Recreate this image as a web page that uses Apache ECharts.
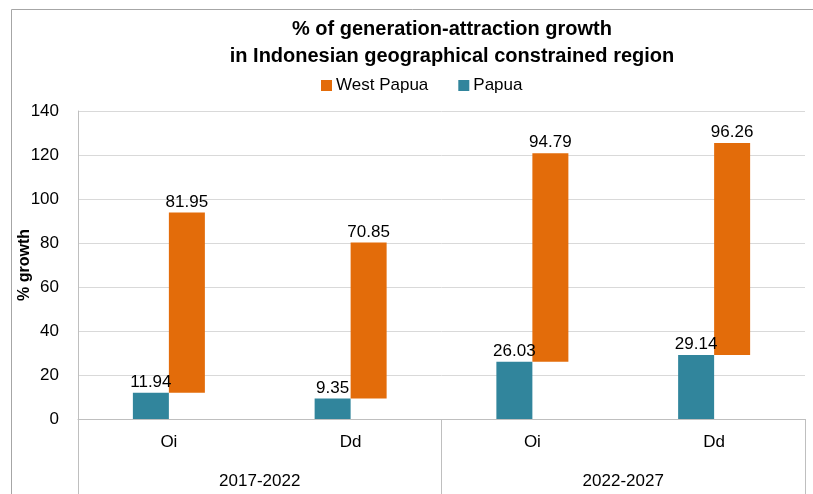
<!DOCTYPE html>
<html>
<head>
<meta charset="utf-8">
<script src="https://cdn.jsdelivr.net/npm/echarts@6/dist/echarts.min.js"></script>
<style>html,body{margin:0;padding:0;background:#fff}#c{width:813px;height:494px}</style>
</head>
<body>
<div id="c"></div>
<script>
const categories = ['Oi', 'Dd', 'Oi', 'Dd'];
const periods = ['2017-2022', '2022-2027'];
const papua = [11.94, 9.35, 26.03, 29.14];
const westPapua = [81.95, 70.85, 94.79, 96.26];
const yTicks = { min: 0, max: 140, interval: 20 };

const FONT = "'Liberation Sans', Arial, sans-serif";
const chart = echarts.init(document.getElementById('c'), null, { renderer: 'canvas' });
chart.setOption({
  animation: false,
  backgroundColor: '#ffffff',
  textStyle: { fontFamily: FONT },
  graphic: [{
    type: 'rect', silent: true, z: -10,
    shape: { x: 11.5, y: 9.5, width: 900, height: 600 },
    style: { fill: 'none', stroke: '#A6A6A6', lineWidth: 1 }
  }],
  title: {
    text: '% of generation-attraction growth\nin Indonesian geographical constrained region',
    left: 447, top: 11, textAlign: 'center',
    textStyle: { fontFamily: FONT, fontWeight: 'bold', fontSize: 20, lineHeight: 27, color: '#000' }
  },
  legend: {
    data: ['West Papua', 'Papua'],
    left: 316, top: 72,
    itemWidth: 11, itemHeight: 11, itemGap: 30,
    icon: 'rect',
    textStyle: { fontFamily: FONT, fontSize: 17, color: '#000', padding: [0, 0, 0, -1] }
  },
  grid: { left: 78, right: 8, top: 111, bottom: 75, containLabel: false, outerBoundsMode: 'none' },
  xAxis: [{
    type: 'category', data: categories, position: 'bottom',
    axisLine: { show: true, lineStyle: { color: '#BFBFBF', width: 1 } },
    axisTick: { show: false },
    axisLabel: { margin: 15, fontFamily: FONT, fontSize: 17, color: '#000' }
  }, {
    type: 'category', data: periods, position: 'bottom',
    axisLine: { show: false },
    axisTick: { show: true, length: 90, interval: 0, lineStyle: { color: '#BFBFBF', width: 1 } },
    axisLabel: { margin: 54, fontFamily: FONT, fontSize: 17, color: '#000' },
    splitLine: { show: false }
  }],
  yAxis: {
    type: 'value', min: yTicks.min, max: yTicks.max, interval: yTicks.interval,
    name: '% growth', nameLocation: 'middle', nameGap: 45, nameRotate: 90, nameMoveOverlap: false,
    nameTextStyle: { fontFamily: FONT, fontWeight: 'bold', fontSize: 16, color: '#000' },
    axisLine: { show: true, lineStyle: { color: '#BFBFBF' } },
    axisTick: { show: false },
    axisLabel: { margin: 19, fontFamily: FONT, fontSize: 17, color: '#000' },
    splitLine: { lineStyle: { color: '#D9D9D9', width: 1 } }
  },
  series: [{
    name: 'Papua', type: 'bar', stack: 'p', data: papua,
    barWidth: 36, barGap: '0%',
    itemStyle: { color: '#31859C' },
    label: { show: true, position: 'top', distance: 2, fontFamily: FONT, fontSize: 17, color: '#000' }
  }, {
    name: 'base', type: 'bar', stack: 'w', data: papua,
    barWidth: 36, barGap: '0%', silent: true,
    itemStyle: { color: 'rgba(0,0,0,0)' },
    label: { show: false }
  }, {
    name: 'West Papua', type: 'bar', stack: 'w', data: westPapua,
    barWidth: 36, barGap: '0%',
    itemStyle: { color: '#E36C0A' },
    label: { show: true, position: 'top', distance: 2, fontFamily: FONT, fontSize: 17, color: '#000' }
  }]
});
</script>
</body>
</html>
